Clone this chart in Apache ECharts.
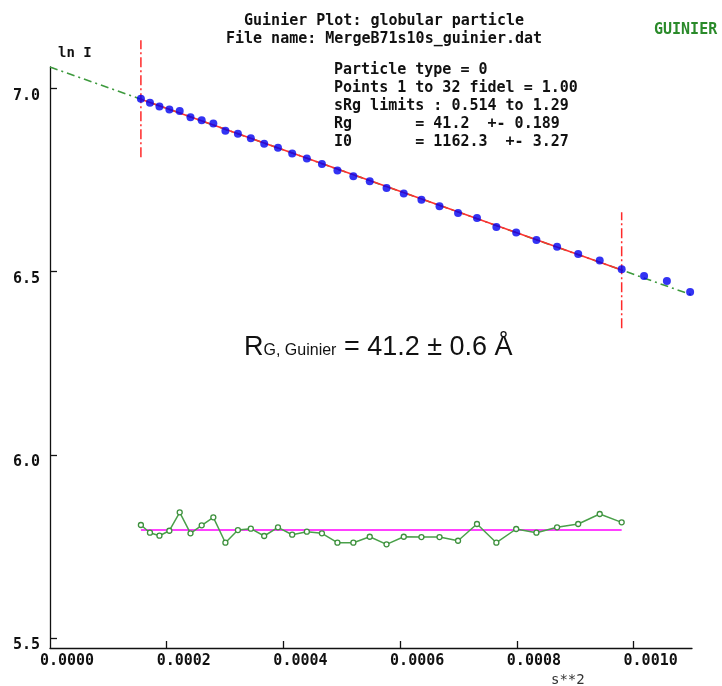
<!DOCTYPE html>
<html>
<head>
<meta charset="utf-8">
<script src="https://cdn.jsdelivr.net/npm/echarts@6/dist/echarts.min.js"></script>
<style>
  html, body { margin: 0; padding: 0; background: #fff; }
  #chart { width: 722px; height: 686px; }
</style>
</head>
<body>
<div id="chart"></div>
<script>
// Guinier region: s^2 and ln I for the points used in the fit
const sqS = [0.00015575, 0.00017127, 0.00018753, 0.00020452, 0.00022225, 0.00024072, 0.00025992, 0.00027986,
             0.00030054, 0.00032195, 0.00034410, 0.00036699, 0.00039062, 0.00041498, 0.00044008, 0.00046591,
             0.00049248, 0.00051979, 0.00054784, 0.00057662, 0.00060614, 0.00063640, 0.00066740, 0.00069913,
             0.00073159, 0.00076480, 0.00079874, 0.00083342, 0.00086883, 0.00090499, 0.00094188, 0.00097950];
const lnI = [6.9715, 6.9604, 6.9503, 6.9422, 6.9377, 6.9210, 6.9125, 6.9036,
             6.8843, 6.8760, 6.8638, 6.8487, 6.8379, 6.8219, 6.8086, 6.7935,
             6.7757, 6.7602, 6.7462, 6.7276, 6.7132, 6.6960, 6.6784, 6.6594,
             6.6460, 6.6216, 6.6065, 6.5858, 6.5674, 6.5479, 6.5300, 6.5062];
// points past the upper sRg limit (not fitted)
const sqSOut = [0.00101787, 0.00105697, 0.00109680];
const lnIOut = [6.488, 6.474, 6.444];
// fit residuals, drawn as an offset trace around residualBase
const residual = [5.8083, 5.7873, 5.7791, 5.7927, 5.8429, 5.7856, 5.8074, 5.8292,
                  5.7600, 5.7946, 5.7982, 5.7783, 5.8020, 5.7818, 5.7900, 5.7856,
                  5.7600, 5.7600, 5.7763, 5.7556, 5.7763, 5.7755, 5.7755, 5.7654,
                  5.8110, 5.7600, 5.7974, 5.7873, 5.8020, 5.8110, 5.8383, 5.8156];
const residualBase = 5.795;
// fit results
const Rg = 41.2;
const I0 = 1162.3;
// vertical extent of the sRg limit markers (ln I)
const limitLow = [6.812, 6.345];
const limitHigh = [7.131, 6.662];
// axis ticks
const xTicks = [0.0002, 0.0004, 0.0006, 0.0008, 0.0010];
const xLabels = [0.0000, 0.0002, 0.0004, 0.0006, 0.0008, 0.0010];
const yTicks = [5.5, 6.0, 6.5, 7.0];

const lnI0 = Math.log(I0);
const slope = -Rg * Rg / 3;
const guinier = x => lnI0 + slope * x;

const first = sqS[0], last = sqS[sqS.length - 1];
const MONO = '"DejaVu Sans Mono", monospace';
const SANS = '"Liberation Sans", Arial, sans-serif';

const chart = echarts.init(document.getElementById('chart'), null, { renderer: 'canvas' });
chart.setOption({
  animation: false,
  backgroundColor: '#ffffff',
  grid: { left: 50, right: 30, top: 67, bottom: 38, containLabel: false, outerBoundsMode: 'none' },
  xAxis: {
    type: 'value', min: 0, max: 0.0011, interval: 0.0002,
    axisLine: { lineStyle: { color: '#111', width: 1.3 } },
    axisTick: { inside: true, length: 7, customValues: xTicks, lineStyle: { color: '#111', width: 1.3 } },
    axisLabel: {
      customValues: xLabels, margin: 6, align: 'center', padding: [0, 0, 0, 34],
      fontFamily: MONO, fontWeight: 'bold', fontSize: 15, color: '#111',
      formatter: v => v.toFixed(4)
    },
    splitLine: { show: false }
  },
  yAxis: {
    type: 'value', min: 5.4727, max: 7.0581,
    axisLine: { lineStyle: { color: '#111', width: 1.3 } },
    axisTick: { inside: true, length: 7, customValues: yTicks, lineStyle: { color: '#111', width: 1.3 } },
    axisLabel: {
      customValues: yTicks, margin: 10, align: 'right', verticalAlign: 'top',
      fontFamily: MONO, fontWeight: 'bold', fontSize: 15, color: '#111',
      formatter: v => v.toFixed(1)
    },
    splitLine: { show: false }
  },
  series: [
    { // extrapolated Guinier line
      type: 'line', symbol: 'none', z: 1,
      data: [[0, guinier(0)], [0.0011, guinier(0.0011)]],
      lineStyle: { color: '#3d9a3d', width: 1.6, type: [8, 4, 2, 4] }
    },
    { // fitted range
      type: 'line', symbol: 'none', z: 2,
      data: [[first, guinier(first)], [last, guinier(last)]],
      lineStyle: { color: '#ff3030', width: 1.6 }
    },
    { // lower sRg limit
      type: 'line', symbol: 'none', z: 2, clip: false,
      data: [[first, limitLow[0]], [first, limitHigh[0]]],
      lineStyle: { color: '#ff2a2a', width: 1.5, type: [10, 3, 2, 3] }
    },
    { // upper sRg limit
      type: 'line', symbol: 'none', z: 2, clip: false,
      data: [[last, limitLow[1]], [last, limitHigh[1]]],
      lineStyle: { color: '#ff2a2a', width: 1.5, type: [10, 3, 2, 3] }
    },
    { // data points
      type: 'scatter', symbol: 'circle', symbolSize: 8, z: 3,
      data: sqS.map((x, i) => [x, lnI[i]]).concat(sqSOut.map((x, i) => [x, lnIOut[i]])),
      itemStyle: { color: '#0000f0' }
    },
    { // residual zero line
      type: 'line', symbol: 'none', z: 2,
      data: [[first, residualBase], [last, residualBase]],
      lineStyle: { color: '#ff00ff', width: 1.5 }
    },
    { // residuals
      type: 'line', symbol: 'circle', symbolSize: 5, z: 3,
      data: sqS.map((x, i) => [x, residual[i]]),
      lineStyle: { color: '#4aa04a', width: 1.5 },
      itemStyle: { color: '#ffffff', borderColor: '#3d903d', borderWidth: 1.3 }
    }
  ],
  graphic: [
    {
      type: 'text', x: 384, y: 12, z: 10,
      style: {
        text: 'Guinier Plot: globular particle\nFile name: MergeB71s10s_guinier.dat',
        font: 'bold 15px ' + MONO, fill: '#111', lineHeight: 18, align: 'center'
      }
    },
    {
      type: 'text', x: 654, y: 23, z: 10,
      style: { text: 'GUINIER', font: 'bold 15px ' + MONO, fill: '#2a8a2a' }
    },
    {
      type: 'text', x: 58, y: 46, z: 10,
      style: { text: 'ln I', font: 'bold 14px ' + MONO, fill: '#111' }
    },
    {
      type: 'text', x: 551, y: 673, z: 10,
      style: { text: 's**2', font: '14px ' + MONO, fill: '#333' }
    },
    {
      type: 'text', x: 334, y: 61, z: 10,
      style: {
        text: 'Particle type = 0\nPoints 1 to 32 fidel = 1.00\nsRg limits : 0.514 to 1.29\n' +
              'Rg       = 41.2  +- 0.189\nI0       = 1162.3  +- 3.27',
        font: 'bold 15px ' + MONO, fill: '#111', lineHeight: 18.1
      }
    },
    {
      type: 'text', x: 244, y: 331, z: 10,
      style: {
        text: '{a|R}{b|G, Guinier}{a| = 41.2 ± 0.6 Å}',
        rich: {
          a: { fontFamily: SANS, fontSize: 27, fill: '#111', verticalAlign: 'bottom', lineHeight: 30 },
          b: { fontFamily: SANS, fontSize: 16, fill: '#111', verticalAlign: 'bottom', lineHeight: 30, padding: [0, 0, 2, 0] }
        }
      }
    }
  ]
});
</script>
</body>
</html>
